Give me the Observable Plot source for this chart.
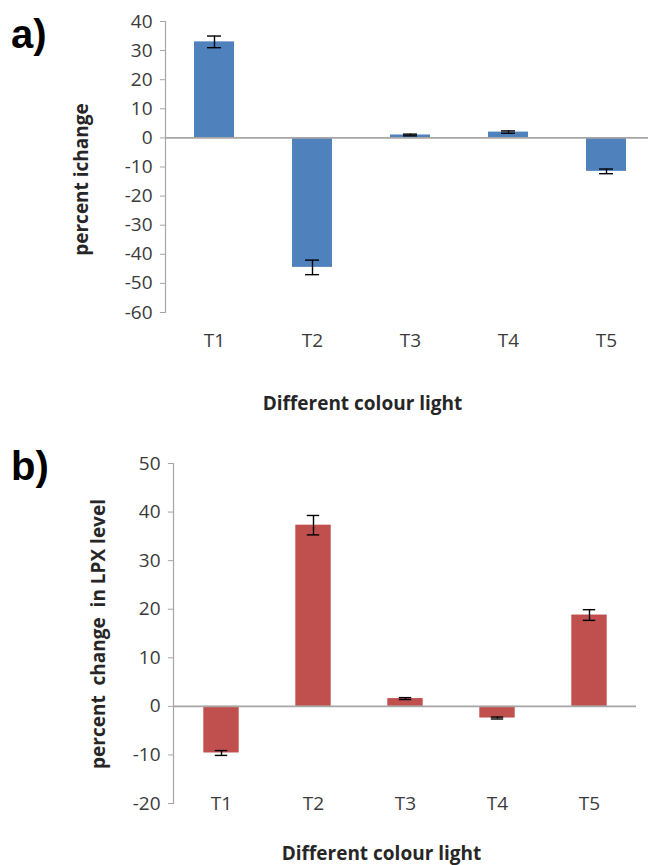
<!DOCTYPE html>
<html><head><meta charset="utf-8">
<script src="https://cdn.jsdelivr.net/npm/d3@7"></script>
<script src="https://cdn.jsdelivr.net/npm/@observablehq/plot@0.6"></script>
<style>
body{margin:0;background:#fff;}
#wrap{position:relative;width:648px;height:865px;overflow:hidden;font-family:"Open Sans",sans-serif;}
.panel{position:absolute;left:0;}
.tag{position:absolute;font-family:"Liberation Sans",Arial,sans-serif;font-weight:bold;font-size:40px;line-height:1;color:#000;}
svg text{white-space:pre;}
</style></head>
<body><div id="wrap"></div>
<script>
// ---- data ----
const treatments = ["T1", "T2", "T3", "T4", "T5"];
const changeA = [33, -44.5, 1, 2, -11.5];
const errA = [2, 2.5, 0.3, 0.4, 0.8];
const ticksA = [-60, -50, -40, -30, -20, -10, 0, 10, 20, 30, 40];
const changeB = [-9.6, 37.3, 1.6, -2.4, 18.8];
const errB = [0.5, 2, 0.2, 0.2, 1.1];
const ticksB = [-20, -10, 0, 10, 20, 30, 40, 50];
const xTitle = "Different colour light";
const yTitleA = "percent ichange";
const yTitleB = "percent  change  in LPX level";
const tags = ["a)", "b)"];

const wrap = document.getElementById("wrap");

function panel(cfg) {
  const rows = treatments.map((t, i) => ({t, v: cfg.values[i], lo: cfg.values[i] - cfg.errs[i], hi: cfg.values[i] + cfg.errs[i]}));
  const step = (cfg.width - cfg.ml - cfg.mr) / treatments.length;
  const barInset = (step - cfg.barW) / 2;
  const capInset = (step - cfg.capW) / 2;
  const fx = cfg.ml, fy = cfg.mt;
  const chart = Plot.plot({
    width: cfg.width,
    height: cfg.height,
    marginLeft: cfg.ml,
    marginRight: cfg.mr,
    marginTop: cfg.mt,
    marginBottom: cfg.mb,
    style: {fontFamily: "'Open Sans', sans-serif", fontSize: "18px", background: "#fff", overflow: "visible"},
    x: {domain: treatments, padding: 0, axis: null},
    y: {domain: cfg.domain, axis: null},
    marks: [
      Plot.barY(rows, {x: "t", y: "v", fill: cfg.color, insetLeft: barInset, insetRight: barInset}),
      Plot.ruleY([0], {stroke: "#a6a6a6", strokeWidth: 1.6}),
      Plot.frame({anchor: "left", stroke: "#a6a6a6", strokeWidth: 1.2}),
      Plot.axisY({ticks: cfg.ticks, tickFormat: d => String(d), tickSize: 5, tickPadding: 8, stroke: "#a6a6a6", fill: "#3a3a3a", fontSize: 19}),
      Plot.axisX({tickSize: 0, tickPadding: cfg.xPad, fill: "#3a3a3a", fontSize: 19, label: null}),
      Plot.ruleX(rows, {x: "t", y1: "lo", y2: "hi", stroke: "#000", strokeWidth: 1.4}),
      Plot.tickY(rows, {x: "t", y: "lo", stroke: "#000", strokeWidth: 1.4, insetLeft: capInset, insetRight: capInset}),
      Plot.tickY(rows, {x: "t", y: "hi", stroke: "#000", strokeWidth: 1.4, insetLeft: capInset, insetRight: capInset}),
      Plot.text([cfg.yTitle], {frameAnchor: "top-left", textAnchor: "middle", lineAnchor: "middle", dx: cfg.yTitleX - fx, dy: cfg.yTitleY - fy, rotate: -90, fontWeight: "bold", fontSize: 19, fill: "#262626"}),
      Plot.text([xTitle], {frameAnchor: "top-left", textAnchor: "middle", lineAnchor: "middle", dx: cfg.xTitleX - fx, dy: cfg.xTitleY - fy, fontWeight: "bold", fontSize: 19, fill: "#262626"})
    ]
  });
  chart.classList.add("panel");
  chart.style.top = cfg.top + "px";
  wrap.appendChild(chart);
  const tag = document.createElement("div");
  tag.className = "tag";
  tag.textContent = cfg.tag;
  tag.style.left = "11px";
  tag.style.top = cfg.tagTop + "px";
  wrap.appendChild(tag);
}

panel({
  top: 0, width: 648, height: 420, ml: 165, mr: -7, mt: 21, mb: 108,
  values: changeA, errs: errA, ticks: ticksA, domain: [-60, 40], color: "#4f81bd",
  barW: 40, capW: 14, xPad: 21,
  yTitle: yTitleA, yTitleX: 81, yTitleY: 179,
  xTitleX: 362, xTitleY: 403,
  tag: tags[0], tagTop: 14
});

panel({
  top: 430, width: 648, height: 435, ml: 173, mr: 12, mt: 33, mb: 62,
  values: changeB, errs: errB, ticks: ticksB, domain: [-20, 50], color: "#c0504d",
  barW: 36, capW: 13, xPad: -7,
  yTitle: yTitleB, yTitleX: 98, yTitleY: 203.5,
  xTitleX: 381, xTitleY: 423,
  tag: tags[1], tagTop: 446
});
</script>
</body></html>
